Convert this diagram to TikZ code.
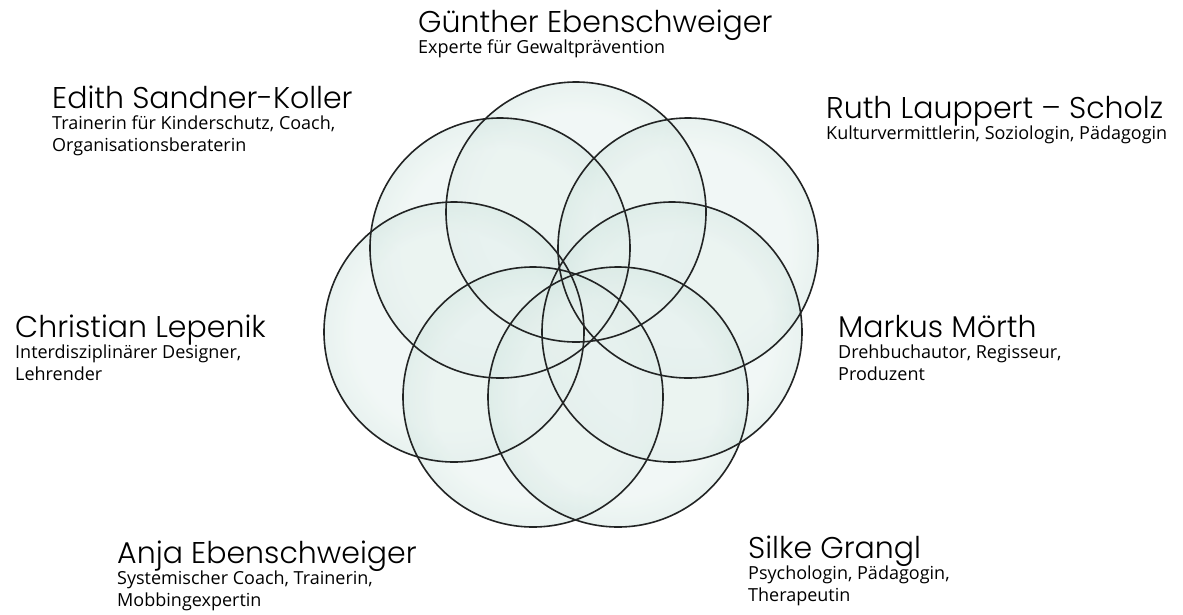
\documentclass[tikz,border=0pt]{standalone}
\usepackage{fontspec}
\setmainfont{Poppins}[UprightFont=* Light]
\newfontfamily\subfont{Open Sans}
\usetikzlibrary{positioning}

\definecolor{glassin}{RGB}{230,241,238}
\definecolor{glassmid}{RGB}{200,224,218}
\definecolor{glassout}{RGB}{146,190,181}
\definecolor{rim}{RGB}{34,36,36}
\pgfdeclareradialshading{glass}{\pgfpoint{0bp}{0bp}}{color(0bp)=(glassin); color(19bp)=(glassin); color(30bp)=(glassmid); color(35.5bp)=(glassout); color(50bp)=(glassout)}

\tikzset{
  bubble/.style={circle,minimum size=260pt,inner sep=0pt,shade,shading=glass,fill opacity=0.55},
  rimline/.style={draw=rim,line width=1.6pt},
  nametext/.style={font=\fontsize{30}{32}\selectfont,anchor=base west,inner sep=0pt},
  roletext/.style={font=\subfont\fontsize{18}{22}\selectfont,align=left,inner sep=0pt},
}

\begin{document}
\begin{tikzpicture}[x=1pt,y=-1pt]
\useasboundingbox (0,0) rectangle (1183,614);
% the seven bubbles
\node[bubble] (c-guenther) at (576,212) {};
\node[bubble] (c-edith) at (500,248) {};
\node[bubble] (c-ruth) at (688,248) {};
\node[bubble] (c-christian) at (454,332) {};
\node[bubble] (c-markus) at (672,332) {};
\node[bubble] (c-anja) at (533,397) {};
\node[bubble] (c-silke) at (618,397) {};
\foreach \c in {c-guenther,c-edith,c-ruth,c-christian,c-markus,c-anja,c-silke}
  \draw[rimline] (\c.center) circle[radius=130];
% names
\node[nametext] (guenther) at (418,32) {Günther Ebenschweiger};
\node[roletext,below right=8pt and 0pt of guenther.base west] (guenther-r) {Experte für Gewaltprävention};
\node[nametext] (edith) at (52,108) {Edith Sandner-Koller};
\node[roletext,below right=8pt and 0pt of edith.base west] (edith-r) {Trainerin für Kinderschutz, Coach,\\Organisationsberaterin};
\node[nametext] (ruth) at (826,118) {Ruth Lauppert – Scholz};
\node[roletext,below right=8pt and 0pt of ruth.base west] (ruth-r) {Kulturvermittlerin, Soziologin, Pädagogin};
\node[nametext] (christian) at (15,337) {Christian Lepenik};
\node[roletext,below right=8pt and 0pt of christian.base west] (christian-r) {Interdisziplinärer Designer,\\Lehrender};
\node[nametext] (markus) at (838,337) {Markus Mörth};
\node[roletext,below right=8pt and 0pt of markus.base west] (markus-r) {Drehbuchautor, Regisseur,\\Produzent};
\node[nametext] (anja) at (117,563) {Anja Ebenschweiger};
\node[roletext,below right=8pt and 0pt of anja.base west] (anja-r) {Systemischer Coach, Trainerin,\\Mobbingexpertin};
\node[nametext] (silke) at (748,558) {Silke Grangl};
\node[roletext,below right=8pt and 0pt of silke.base west] (silke-r) {Psychologin, Pädagogin,\\Therapeutin};
\end{tikzpicture}
\end{document}
